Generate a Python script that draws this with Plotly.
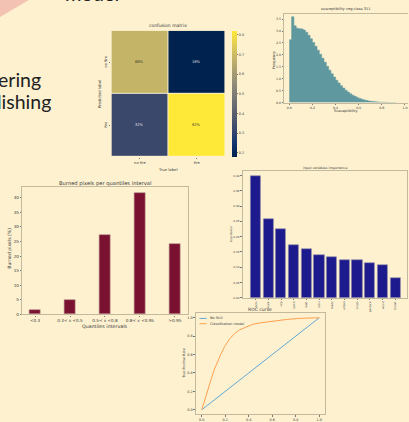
import plotly.graph_objects as go

W, H = 409, 422

# ---------------- data ----------------
cm_labels = ["no fire", "fire"]
cm_values = [[0.68, 0.18],
             [0.32, 0.82]]

hist_bin_start = [0.00, 0.02, 0.04, 0.06, 0.08, 0.10, 0.12, 0.14, 0.16, 0.18,
                  0.20, 0.22, 0.24, 0.26, 0.28, 0.30, 0.32, 0.34, 0.36, 0.38,
                  0.40, 0.42, 0.44, 0.46, 0.48, 0.50, 0.52, 0.54, 0.56, 0.58,
                  0.60, 0.62, 0.64, 0.66, 0.68, 0.70, 0.72, 0.74, 0.76, 0.78,
                  0.80, 0.82, 0.84, 0.86, 0.88, 0.90]
hist_density = [2.64, 3.60, 3.22, 3.12, 3.10, 3.09, 3.04, 2.95, 2.82, 2.68,
                2.52, 2.36, 2.20, 2.03, 1.86, 1.69, 1.52, 1.36, 1.21, 1.07,
                0.94, 0.82, 0.71, 0.61, 0.52, 0.44, 0.37, 0.31, 0.26, 0.215,
                0.175, 0.14, 0.11, 0.087, 0.068, 0.052, 0.04, 0.03, 0.022, 0.016,
                0.011, 0.008, 0.005, 0.003, 0.002, 0.001]
hist_bin_width = 0.02

quantile_labels = ["<0.3", "0.3< x <0.5", "0.5< x <0.8", "0.8< x <0.95", ">0.95"]
burned_pct = [1.5, 4.8, 27.4, 41.6, 24.2]

var_names = ["dem", "slope", "veg", "north", "east", "ndvi",
             "roads", "urban", "crops", "pasture", "wood", "forest"]
var_importance = [0.398, 0.258, 0.224, 0.173, 0.160, 0.140,
                  0.134, 0.122, 0.122, 0.113, 0.107, 0.065]

roc_fpr = [0.0, 0.023, 0.051, 0.080, 0.108, 0.136, 0.165, 0.193, 0.235, 0.278,
           0.320, 0.377, 0.433, 0.490, 0.600, 0.720, 0.830, 1.0]
roc_tpr = [0.0, 0.101, 0.227, 0.334, 0.442, 0.533, 0.611, 0.684, 0.766, 0.827,
           0.867, 0.899, 0.928, 0.943, 0.962, 0.981, 0.993, 1.0]

# ---------------- style ----------------
BG = "#fdf1d0"
SPINE = "#c3ba9d"
TXT = "#3a3a3a"
FONT = "DejaVu Sans"
SLIDE_FONT = "Lato"


def xdom(left, right):
    return [left / W, min(right / W, 1.0)]


def ydom(top, bottom):
    return [1 - bottom / H, 1 - top / H]


def px(x):
    return x / W


def py(y):
    return 1 - y / H


annotations = []


def label(text, x, y, size, angle=0, xanchor="center", color=TXT, font=FONT):
    annotations.append(dict(
        text=text, x=px(x), y=py(y), xref="paper", yref="paper",
        xanchor=xanchor, yanchor="middle", showarrow=False, textangle=angle,
        font=dict(family=font, size=size, color=color), borderpad=0,
    ))


def axis(domain, rng, size, **kw):
    base = dict(domain=domain, range=rng, showgrid=False, zeroline=False,
                ticks="outside", ticklen=1.5, tickwidth=0.6, tickcolor="#777",
                tickfont=dict(family=FONT, size=size, color=TXT),
                showline=True, linecolor=SPINE, linewidth=1.2, mirror=True)
    base.update(kw)
    return base


fig = go.Figure()

# ---------- confusion matrix ----------
fig.add_trace(go.Heatmap(
    z=cm_values, x=[0, 1], y=[0, 1], colorscale="Cividis", zmin=0.18, zmax=0.82,
    xgap=1, ygap=1, xaxis="x", yaxis="y",
    colorbar=dict(x=px(232.7), xanchor="left", thickness=4.6, xpad=0, ypad=0,
                  lenmode="fraction", len=127 / H, y=py(94.5), yanchor="middle",
                  outlinewidth=0, tickvals=[0.2, 0.3, 0.4, 0.5, 0.6, 0.7, 0.8],
                  ticks="outside", ticklen=1.5, tickwidth=0.6, tickcolor="#777",
                  tickfont=dict(family=FONT, size=3.4, color=TXT)),
))
for i, row in enumerate(cm_values):
    for j, v in enumerate(row):
        annotations.append(dict(
            text=f"{v:.0%}", x=j, y=i, xref="x", yref="y", showarrow=False,
            font=dict(family=FONT, size=3.6, color="#333" if v > 0.5 else "#e6e6e6"),
        ))
label("confusion matrix", 168, 25.7, 4.5)
label("True label", 168, 171, 3.8)
label("Predicted label", 100.5, 94.5, 3.8, angle=-90)

# ---------- susceptibility histogram (step outline filled to zero) ----------
hist_x = hist_bin_start + [hist_bin_start[-1] + hist_bin_width]
hist_y = hist_density + [hist_density[-1]]
fig.add_trace(go.Scatter(
    x=hist_x, y=hist_y, mode="lines", line=dict(shape="hv", width=0.5, color="#5f989e"),
    fill="tozeroy", fillcolor="#5f989e", xaxis="x2", yaxis="y2",
))
label("susceptibility veg class 311", 347, 9.5, 3.6)
label("Susceptibility", 347, 112, 3.5)
label("Frequency", 274, 60, 3.5, angle=-90)

# ---------- burned pixels per quantile ----------
fig.add_trace(go.Bar(
    x=list(range(len(burned_pct))), y=burned_pct, width=0.3,
    marker=dict(color="#7b1131", line=dict(width=0.6, color="#b48a86")),
    xaxis="x3", yaxis="y3",
))
label("Burned pixels per quantiles interval", 105.5, 184.5, 5.2)
label("Quantiles intervals", 105.5, 328.5, 4.8)
label("Burned pixels (%)", 9.5, 250, 4.6, angle=-90)

# ---------- variable importance ----------
fig.add_trace(go.Bar(
    x=list(range(len(var_importance))), y=var_importance, width=0.8,
    marker=dict(color="#1c1a8c", line=dict(width=0.6, color="#8d8aa8")),
    xaxis="x4", yaxis="y4",
))
label("input variables importance", 326, 169, 3.3)
label("Importance", 231.5, 236, 2.8, angle=-90)

# ---------- ROC curve ----------
fig.add_trace(go.Scatter(
    x=[0, 1], y=[0, 1], mode="lines", line=dict(color="#63a8d4", width=1),
    xaxis="x5", yaxis="y5", name="No Skill",
))
fig.add_trace(go.Scatter(
    x=roc_fpr, y=roc_tpr, mode="lines", line=dict(color="#ffa04c", width=1),
    xaxis="x5", yaxis="y5", name="Classification model",
))
label("ROC curve", 261, 311.5, 4.5)
label("True Positive Rate", 185, 366.7, 3.3, angle=-90)
label("No Skill", 209.3, 320.7, 3.4, xanchor="left")
label("Classification model", 209.3, 326, 3.4, xanchor="left")

shapes = [
    dict(type="line", xref="paper", yref="paper", x0=px(200), x1=px(207),
         y0=py(320.7), y1=py(320.7), line=dict(color="#63a8d4", width=1)),
    dict(type="line", xref="paper", yref="paper", x0=px(200), x1=px(207),
         y0=py(326), y1=py(326), line=dict(color="#ffa04c", width=1)),
    # corner accent of the slide
    dict(type="path", xref="paper", yref="paper",
         path=f"M 0 1 L {px(29)} 1 L 0 {py(17)} Z",
         fillcolor="#f3c2b3", line=dict(width=0), layer="below"),
]

# ---------- slide text ----------
label("model", 92, -7.5, 20, color="#222", font=SLIDE_FONT)
label("ering", 42, 80, 19.5, xanchor="right", color="#222", font=SLIDE_FONT)
label("lishing", 52, 102.5, 19.5, xanchor="right", color="#222", font=SLIDE_FONT)

fig.update_layout(
    width=W, height=H, margin=dict(l=0, r=0, t=0, b=0),
    paper_bgcolor=BG, plot_bgcolor=BG, showlegend=False, bargap=0,
    font=dict(family=FONT, color=TXT),
    annotations=annotations, shapes=shapes,
    # confusion matrix
    xaxis=axis(xdom(111.7, 225.7), [-0.5, 1.5], 3.6, tickvals=[0, 1], ticktext=cm_labels,
               showline=False, ticklen=1.5, anchor="y"),
    yaxis=axis(ydom(31, 158), [1.5, -0.5], 3.6, tickvals=[0, 1], ticktext=cm_labels,
               showline=False, tickangle=-90, anchor="x"),
    # histogram
    xaxis2=axis(xdom(285, 409), [-0.043, 1.026], 3.2, tickvals=[0, 0.2, 0.4, 0.6, 0.8, 1.0],
                tickformat=".1f", anchor="y2"),
    yaxis2=axis(ydom(14, 103.3), [0, 3.72], 3.2, tickvals=[0, 0.5, 1, 1.5, 2, 2.5, 3, 3.5],
                tickformat=".1f", mirror=False, anchor="x2"),
    # burned pixels
    xaxis3=axis(xdom(22.5, 188.3), [-0.36, 4.37], 4.2, tickvals=list(range(5)),
                ticktext=quantile_labels, anchor="y3"),
    yaxis3=axis(ydom(188.3, 316.7), [0, 43.7], 4.2, tickvals=list(range(0, 45, 5)),
                anchor="x3"),
    # importance
    xaxis4=axis(xdom(243.3, 408.3), [-1.02, 11.94], 2.8, tickvals=list(range(12)),
                ticktext=var_names, tickangle=-90, anchor="y4"),
    yaxis4=axis(ydom(172.3, 300), [0, 0.4146], 2.8,
                tickvals=[0, 0.05, 0.1, 0.15, 0.2, 0.25, 0.3, 0.35, 0.4],
                tickformat=".2f", anchor="x4"),
    # ROC
    xaxis5=axis(xdom(196.4, 325.9), [-0.05, 1.05], 3.4, tickvals=[0, 0.2, 0.4, 0.6, 0.8, 1.0],
                tickformat=".1f", anchor="y5"),
    yaxis5=axis(ydom(315.4, 417.3), [-0.05, 1.05], 3.4, tickvals=[0, 0.2, 0.4, 0.6, 0.8, 1.0],
                tickformat=".1f", anchor="x5"),
)

fig.write_html("out.html")
